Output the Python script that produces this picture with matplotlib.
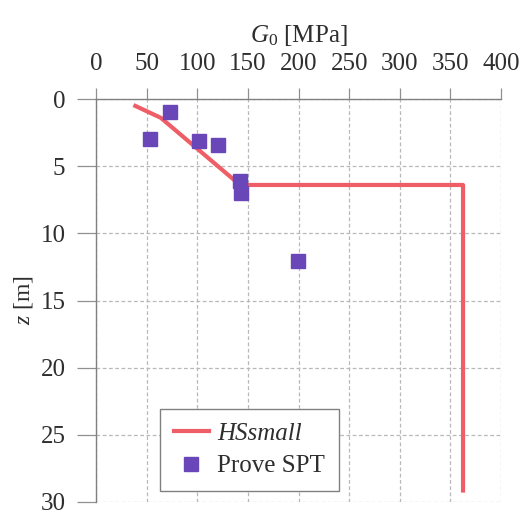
import matplotlib
matplotlib.use("Agg")
import matplotlib.pyplot as plt
from matplotlib.lines import Line2D

# Data
hs_g0 = [37, 64, 136, 142, 362.5, 362.5]
hs_z = [0.45, 1.4, 6.0, 6.4, 6.4, 29.3]
spt_g0 = [73, 53, 102, 120.5, 142, 143, 199.5]
spt_z = [0.97, 3.0, 3.1, 3.4, 6.1, 7.0, 12.06]
xticks = [0, 50, 100, 150, 200, 250, 300, 350, 400]
yticks = [0, 5, 10, 15, 20, 25, 30]

plt.rcParams['font.family'] = ['Liberation Serif', 'DejaVu Serif']
plt.rcParams['mathtext.fontset'] = 'custom'
plt.rcParams['mathtext.rm'] = 'Liberation Serif'
plt.rcParams['mathtext.it'] = 'Liberation Serif:italic'

fig = plt.figure(figsize=(5.21, 5.13), dpi=100)
ax = fig.add_axes([96/521, 1-502/513, 405/521, 403/513])

line_col = '#ef5d67'
mark_col = '#6a47b8'
txt_col = '#2e2e2e'
ax.plot(hs_g0, hs_z, color=line_col, lw=3, solid_capstyle='butt', zorder=3, label='HSsmall')
ax.plot(spt_g0, spt_z, ls='none', marker='s', ms=10.5, color=mark_col, zorder=4, label='Prove SPT')

ax.set_xlim(0, 400)
ax.set_ylim(30, 0)
ax.set_xticks(xticks)
ax.set_yticks(yticks)
ax.xaxis.tick_top()
ax.xaxis.set_label_position('top')
ax.grid(True, ls=(0, (3, 2)), color='#b8b8b8', lw=0.9)
for s in ['right', 'bottom']:
    ax.spines[s].set_visible(False)
for s in ['left', 'top']:
    ax.spines[s].set_color('#808080')
    ax.spines[s].set_linewidth(1.0)
ax.tick_params(axis='x', direction='out', length=8, width=0.9, color='#909090', pad=9,
               labelsize=18, labelcolor=txt_col)
ax.tick_params(axis='y', direction='out', length=14, width=0.9, color='#909090', pad=8,
               labelsize=18, labelcolor=txt_col)
ax.set_xlabel(r'$\mathit{G}_{\mathrm{0}}$ [MPa]', fontsize=18, color=txt_col, labelpad=8)
ax.set_ylabel(r'$\mathit{z}$ [m]', fontsize=17, color=txt_col, labelpad=4)

handles = [Line2D([0], [0], color=line_col, lw=3),
           Line2D([0], [0], ls='none', marker='s', ms=10.5, color=mark_col)]
leg = ax.legend(handles, ['HSsmall', 'Prove SPT'], loc='lower left',
                bbox_to_anchor=(0.158, 0.027), fontsize=18, fancybox=False,
                framealpha=1, edgecolor='#808080', handlelength=1.4, handletextpad=0.35,
                borderpad=0.55, labelspacing=0.4, borderaxespad=0.0)
leg.get_frame().set_linewidth(1.0)
leg.get_texts()[0].set_fontstyle('italic')
for t in leg.get_texts():
    t.set_color(txt_col)

fig.savefig('out.png', dpi=100)
